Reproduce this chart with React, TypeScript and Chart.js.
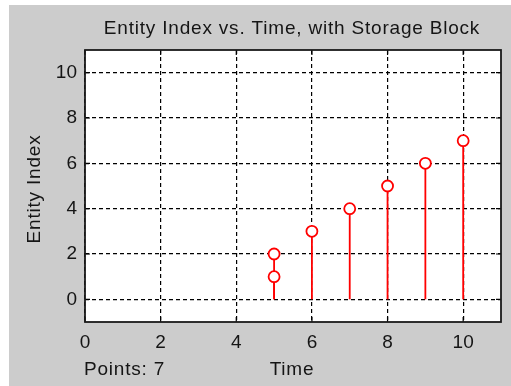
import React, { useEffect, useRef } from "react";
import { Chart, registerables } from "chart.js";

Chart.register(...registerables);

// ---- data ----
const timeValues = [5, 5, 6, 7, 8, 9, 10];
const entityIndex = [1, 2, 3, 4, 5, 6, 7];
const xTickValues = [0, 2, 4, 6, 8, 10];
const yTickValues = [0, 2, 4, 6, 8, 10];
const xRange = [0, 11];
const yRange = [-1, 11];
const titleText = "Entity Index vs. Time, with Storage Block";
const xLabel = "Time";
const yLabel = "Entity Index";
const pointsLabel = `Points: ${timeValues.length}`;

const W = 502;
const H = 381;
const FONT = '"Liberation Sans", Arial, sans-serif';
const STEM_COLOR = "#ff0000";

const decorPlugin = {
  id: "decor",
  beforeDraw(chart: any) {
    const { ctx, chartArea } = chart;
    ctx.save();
    ctx.fillStyle = "#cccccc";
    ctx.fillRect(0, 0, chart.width, chart.height);
    ctx.fillStyle = "#ffffff";
    ctx.fillRect(chartArea.left, chartArea.top, chartArea.right - chartArea.left, chartArea.bottom - chartArea.top);
    ctx.restore();
  },
  beforeDatasetsDraw(chart: any) {
    const { ctx, scales } = chart;
    const xs = scales.x;
    const ys = scales.y;
    ctx.save();
    ctx.strokeStyle = STEM_COLOR;
    ctx.lineWidth = 1.8;
    for (let i = 0; i < timeValues.length; i++) {
      const px = xs.getPixelForValue(timeValues[i]);
      ctx.beginPath();
      ctx.moveTo(px, ys.getPixelForValue(0));
      ctx.lineTo(px, ys.getPixelForValue(entityIndex[i]));
      ctx.stroke();
    }
    ctx.restore();
  },
  afterDraw(chart: any) {
    const { ctx, chartArea, scales } = chart;
    const { left, right, top, bottom } = chartArea;
    ctx.save();
    // inward tick marks
    ctx.strokeStyle = "#000";
    ctx.lineWidth = 1.2;
    ctx.setLineDash([]);
    const tl = 5;
    xTickValues.forEach((v) => {
      const px = scales.x.getPixelForValue(v);
      ctx.beginPath();
      ctx.moveTo(px, top);
      ctx.lineTo(px, top + tl);
      ctx.moveTo(px, bottom);
      ctx.lineTo(px, bottom - tl);
      ctx.stroke();
    });
    yTickValues.forEach((v) => {
      const py = scales.y.getPixelForValue(v);
      ctx.beginPath();
      ctx.moveTo(left, py);
      ctx.lineTo(left + tl, py);
      ctx.moveTo(right, py);
      ctx.lineTo(right - tl, py);
      ctx.stroke();
    });
    // frame
    ctx.strokeStyle = "#1a1a1a";
    ctx.lineWidth = 1.8;
    ctx.strokeRect(left, top, right - left, bottom - top);

    // texts
    ctx.fillStyle = "#151515";
    ctx.font = `19px ${FONT}`;
    (ctx as any).letterSpacing = "0.8px";
    ctx.textBaseline = "alphabetic";
    ctx.textAlign = "center";
    ctx.fillText(titleText, 283, 29);
    ctx.fillText(xLabel, 283, 370);
    ctx.textAlign = "left";
    ctx.fillText(pointsLabel, 75, 370);
    ctx.translate(30.5, 184);
    ctx.rotate(-Math.PI / 2);
    ctx.textAlign = "center";
    ctx.fillText(yLabel, 0, 0);
    (ctx as any).letterSpacing = "0px";
    ctx.restore();
  },
};

export default function App() {
  const ref = useRef<HTMLCanvasElement | null>(null);
  useEffect(() => {
    if (!ref.current) return;
    const chart = new Chart(ref.current, {
      type: "scatter",
      data: {
        datasets: [
          {
            data: timeValues.map((t, i) => ({ x: t, y: entityIndex[i] })),
            showLine: false,
            pointRadius: 5.5,
            pointHoverRadius: 5.5,
            pointBorderWidth: 1.8,
            pointBackgroundColor: "#ffffff",
            pointBorderColor: STEM_COLOR,
            borderColor: STEM_COLOR,
          },
        ],
      },
      options: {
        animation: false,
        responsive: false,
        devicePixelRatio: 1,
        layout: { padding: { top: 45, right: 10, left: 0, bottom: 0 } },
        plugins: {
          legend: { display: false },
          tooltip: { enabled: false },
          title: { display: false },
        },
        scales: {
          x: {
            type: "linear",
            position: "bottom",
            min: xRange[0],
            max: xRange[1],
            afterBuildTicks: (s: any) => {
              s.ticks = xTickValues.map((v) => ({ value: v }));
            },
            afterFit: (s: any) => {
              s.height = 64;
            },
            ticks: {
              autoSkip: false,
              maxRotation: 0,
              padding: 9,
              color: "#151515",
              font: { family: FONT, size: 19 },
            },
            grid: { color: "#000", lineWidth: 1.2, drawTicks: false },
            border: { display: false, dash: [4, 3] },
          },
          y: {
            type: "linear",
            position: "left",
            min: yRange[0],
            max: yRange[1],
            afterBuildTicks: (s: any) => {
              s.ticks = yTickValues.map((v) => ({ value: v }));
            },
            afterFit: (s: any) => {
              s.width = 76;
            },
            ticks: {
              padding: 8,
              color: "#151515",
              font: { family: FONT, size: 19 },
            },
            grid: { color: "#000", lineWidth: 1.2, drawTicks: false },
            border: { display: false, dash: [4, 3] },
          },
        },
      },
      plugins: [decorPlugin],
    });
    return () => chart.destroy();
  }, []);
  return (
    <div style={{ position: "fixed", left: 9, top: 5, width: W, height: H }}>
      <canvas ref={ref} width={W} height={H} style={{ display: "block", width: W, height: H }} />
    </div>
  );
}
